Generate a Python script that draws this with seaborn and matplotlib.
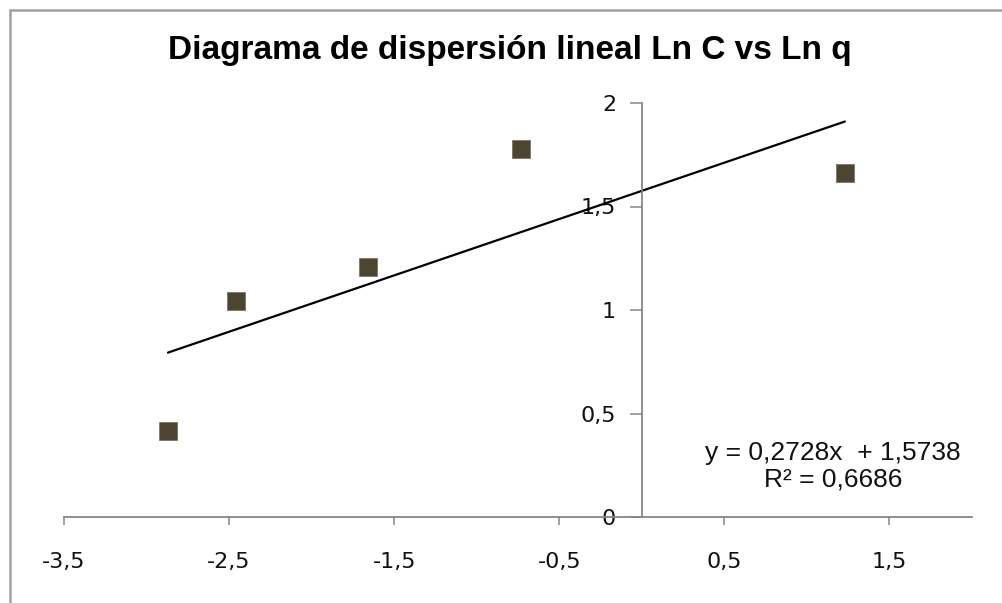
import matplotlib
matplotlib.use("Agg")
import matplotlib.pyplot as plt
import matplotlib.patches as mpatches
import numpy as np
import pandas as pd
import seaborn as sns

# Data (Ln q, Ln C)
ln_q = [-2.87, -2.46, -1.66, -0.73, 1.23]
ln_c = [0.417, 1.045, 1.209, 1.778, 1.662]

x_ticks = [-3.5, -2.5, -1.5, -0.5, 0.5, 1.5]
x_tick_labels = ["-3,5", "-2,5", "-1,5", "-0,5", "0,5", "1,5"]
y_ticks = [0, 0.5, 1, 1.5, 2]
y_tick_labels = ["0", "0,5", "1", "1,5", "2"]

title = "Diagrama de dispersión lineal Ln C vs Ln q"
eq_text = "y = 0,2728x  + 1,5738\nR² = 0,6686"

sns.set_style("white")
plt.rcParams["font.family"] = ["DejaVu Sans"]
plt.rcParams["text.color"] = "black"

W, H = 1003, 603
fig = plt.figure(figsize=(W / 100, H / 100), dpi=100)
ax = fig.add_axes([64 / W, 1 - 517 / H, (972 - 64) / W, (517 - 103) / H])

df = pd.DataFrame({"x": ln_q, "y": ln_c})

sns.regplot(data=df, x="x", y="y", ax=ax, scatter=False, ci=None,
            truncate=True, line_kws=dict(color="black", lw=1.6))
sns.scatterplot(data=df, x="x", y="y", ax=ax, marker="s", s=150,
                color="#4d4530", edgecolor="#7d7560", linewidth=0.6, zorder=5)

ax.set_xlim(-3.5, 2)
ax.set_ylim(0, 2)
ax.set_xlabel("")
ax.set_ylabel("")

ax.spines["left"].set_position(("data", 0))
ax.spines["bottom"].set_position(("data", 0))
ax.spines["top"].set_visible(False)
ax.spines["right"].set_visible(False)
for s in ("left", "bottom"):
    ax.spines[s].set_color("#868686")
    ax.spines[s].set_linewidth(1.3)

ax.set_xticks(x_ticks)
ax.set_xticklabels(x_tick_labels, family="DejaVu Sans")
ax.set_yticks(y_ticks)
ax.set_yticklabels(y_tick_labels, family="DejaVu Sans")
ax.tick_params(axis="x", direction="out", length=6, width=1.1, color="#868686",
               pad=19, labelsize=16, labelcolor="#111111", bottom=True)
ax.tick_params(axis="y", direction="out", length=8.5, width=1.1, color="#868686",
               pad=10, labelsize=16, labelcolor="#111111", left=True)
ax.grid(False)

fig.text(510 / W, 1 - 51 / H, title, ha="center", va="center",
         fontsize=24, fontweight="bold", family="Liberation Sans", color="black")
fig.text(833 / W, 1 - 466 / H, eq_text, ha="center", va="center",
         fontsize=19, family="Liberation Sans", linespacing=1.12, color="#111111")

border = mpatches.Rectangle((10 / W, -0.2), 1.2, (H - 10) / H + 0.2,
                            transform=fig.transFigure, fill=False,
                            edgecolor="#a0a0a0", linewidth=1.8, clip_on=False)
fig.patches.append(border)

fig.savefig("out.png", dpi=100)
